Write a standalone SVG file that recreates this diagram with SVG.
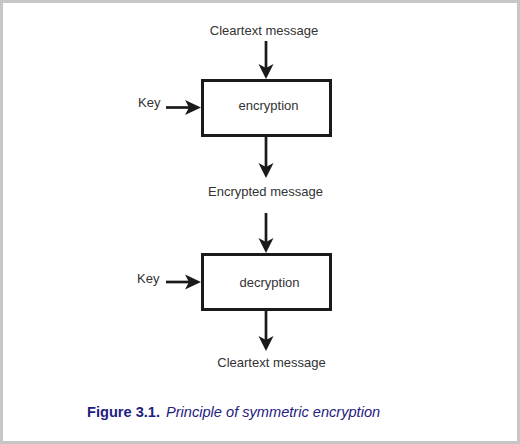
<svg xmlns="http://www.w3.org/2000/svg" width="520" height="444" viewBox="0 0 520 444">
<style>
.lbl{font-family:"Liberation Sans",Arial,sans-serif;font-size:13px;fill:#333;}
.box{fill:#fff;stroke:#1a1a1a;stroke-width:3;}
.con{stroke:#1a1a1a;stroke-width:2.7;fill:none;}
.head{fill:#1a1a1a;}
.cap{font-family:"Liberation Sans",Arial,sans-serif;font-size:14.6px;fill:#1e2080;}
</style>
<rect x="0" y="0" width="520" height="444" fill="#fff"/>
<rect x="1.5" y="1.5" width="517" height="441" fill="none" stroke="#c6c6c6" stroke-width="3"/>
<g id="connectors">
<line class="con" x1="266" y1="41" x2="266" y2="70"/>
<polygon class="head" points="258.5,64 266,68 273.5,64 266,79"/>
<line class="con" x1="166" y1="107.5" x2="192" y2="107.5"/>
<polygon class="head" points="185,100 189,107.5 185,115 201,107.5"/>
<line class="con" x1="266" y1="137" x2="266" y2="168"/>
<polygon class="head" points="258.5,163 266,167 273.5,163 266,178"/>
<line class="con" x1="266" y1="213" x2="266" y2="244"/>
<polygon class="head" points="258.5,238 266,242 273.5,238 266,253"/>
<line class="con" x1="166" y1="282" x2="192" y2="282"/>
<polygon class="head" points="185,274.5 189,282 185,289.5 201,282"/>
<line class="con" x1="266" y1="310" x2="266" y2="342"/>
<polygon class="head" points="258.5,336 266,340 273.5,336 266,351"/>
</g>
<g id="cleartext-in"><text class="lbl" x="264" y="35" text-anchor="middle">Cleartext message</text></g>
<g id="key1"><text class="lbl" x="138" y="107">Key</text></g>
<g id="encryption">
<rect class="box" x="202.5" y="80.5" width="128" height="55"/>
<text class="lbl" x="268.5" y="110" text-anchor="middle">encryption</text>
</g>
<g id="encrypted"><text class="lbl" x="265.5" y="196" text-anchor="middle">Encrypted message</text></g>
<g id="key2"><text class="lbl" x="137" y="283">Key</text></g>
<g id="decryption">
<rect class="box" x="202.5" y="254.5" width="128" height="55"/>
<text class="lbl" x="269.5" y="287" text-anchor="middle">decryption</text>
</g>
<g id="cleartext-out"><text class="lbl" x="271.5" y="367" text-anchor="middle">Cleartext message</text></g>
<g id="caption">
<text class="cap" x="87" y="417" font-weight="bold">Figure 3.1.</text>
<text class="cap" x="166" y="417" font-style="italic">Principle of symmetric encryption</text>
</g>
</svg>
